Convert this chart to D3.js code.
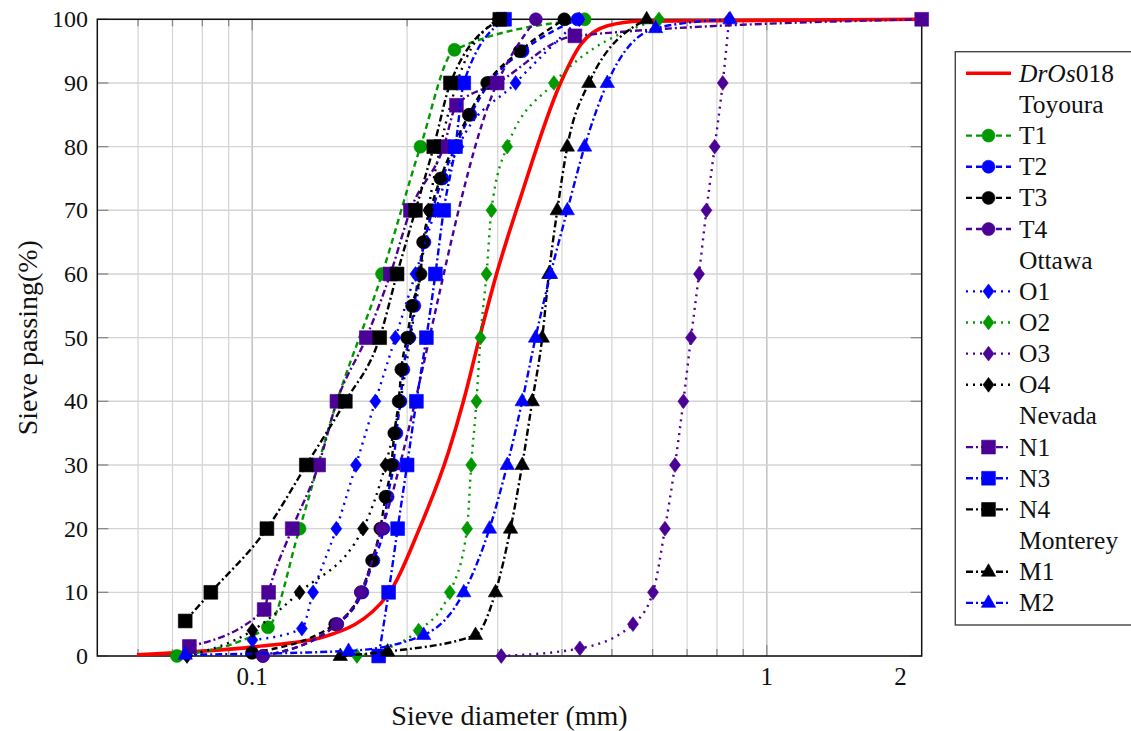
<!DOCTYPE html>
<html>
<head>
<meta charset="utf-8">
<script src="https://cdn.jsdelivr.net/npm/d3@7"></script>
<style>
  body { margin: 0; background: #fff; }
  text { font-family: "Liberation Serif", "DejaVu Serif", serif; fill: #111; }
</style>
</head>
<body>
<svg id="chart" width="1131" height="731"></svg>
<script>
// sieve diameter (mm), passing (%)
const DrOs018 = [[0.0597,0.2],[0.1023,1.5],[0.1374,3],[0.1831,9.5],[0.2113,20],[0.2406,32],[0.2573,40],[0.2765,50],[0.2984,60],[0.3322,72],[0.3974,90],[0.4346,96],[0.4905,99],[0.5688,99.7],[2,100]];

const T1 = [[0.0714,0],[0.1073,4.5],[0.1236,20],[0.1461,40],[0.1788,60],[0.2123,80],[0.2472,95.2],[0.4425,100]];
const T2 = [[0.1049,0],[0.1463,5],[0.1637,10],[0.1720,15],[0.1799,20],[0.1833,25],[0.1881,30],[0.1906,35],[0.1941,40],[0.1967,45],[0.2020,50],[0.2066,55],[0.2104,60],[0.2161,65],[0.2240,70],[0.2343,75],[0.2483,80],[0.2656,85],[0.2891,90],[0.3352,95],[0.4289,100]];
const T3 = [[0.0999,0.5],[0.1450,5],[0.1627,10],[0.1710,15],[0.1774,20],[0.1815,25],[0.1864,30],[0.1889,35],[0.1926,40],[0.1949,45],[0.2000,50],[0.2045,55],[0.2123,60],[0.2149,65],[0.2220,70],[0.2322,75],[0.2461,80],[0.2635,85],[0.2862,90],[0.3311,95],[0.4041,100]];
const T4 = [[0.1049,0],[0.1461,5],[0.1627,10],[0.1788,20],[0.2993,90],[0.3558,100]];

const O1 = [[0.1001,2.5],[0.1249,4.3],[0.1313,10],[0.1457,20],[0.1591,30],[0.1735,40],[0.1898,50],[0.2076,60],[0.2270,70],[0.2516,80],[0.3250,90],[0.4321,100]];
const O2 = [[0.1598,0],[0.2106,4],[0.2421,10],[0.2616,20],[0.2664,30],[0.2728,40],[0.2777,50],[0.2853,60],[0.2917,70],[0.3130,80],[0.3857,90],[0.6173,100]];
const O3 = [[0.3048,0],[0.4333,1.2],[0.5495,5],[0.6010,10],[0.6340,20],[0.6631,30],[0.6885,40],[0.7124,50],[0.7384,60],[0.7633,70],[0.7921,80],[0.8211,90],[0.8447,100]];
const O4 = [[0.0747,0],[0.1001,4],[0.1236,10],[0.1642,20],[0.1815,30],[0.1941,40],[0.2030,50],[0.2123,60],[0.2200,70],[0.2322,80],[0.2500,90],[0.2993,100]];

const N1 = [[0.0755,1.5],[0.1055,7.3],[0.1076,10],[0.1196,20],[0.1346,30],[0.1461,40],[0.1666,50],[0.1856,60],[0.2030,70],[0.2356,80],[0.2494,86.5],[0.2993,90],[0.4237,97.4],[2.0,100]];
const N3 = [[0.1761,0],[0.1841,10],[0.1917,20],[0.2000,30],[0.2085,40],[0.2180,50],[0.2270,60],[0.2356,70],[0.2483,80],[0.2577,90],[0.3093,100]];
const N4 = [[0.0741,5.5],[0.0831,10],[0.1068,20],[0.1274,30],[0.1517,40],[0.1769,50],[0.1912,60],[0.2076,70],[0.2253,80],[0.2428,90],[0.3028,100]];

const M1 = [[0.1483,0],[0.1833,0.7],[0.2716,3.3],[0.2970,10],[0.3177,20],[0.3347,30],[0.3501,40],[0.3661,50],[0.3771,60],[0.3916,70],[0.4096,80],[0.4512,90],[0.5842,100]];
const M2 = [[0.0741,0.2],[0.1539,0.8],[0.2154,3.3],[0.2577,10],[0.2891,20],[0.3130,30],[0.3347,40],[0.3553,50],[0.3800,60],[0.4096,70],[0.4425,80],[0.4898,90],[0.6081,98.6],[0.8484,100]];

const xMinorTicks = [0.06,0.07,0.08,0.09,0.2,0.3,0.4,0.5,0.6,0.7,0.8,0.9];
const xMajorTicks = [0.1, 1];
const xTickLabels = [[0.1,'0.1'],[1,'1'],[1.82,'2']];
const yTicks = [0,10,20,30,40,50,60,70,80,90,100];

const green = '#009900', blue = '#0000ff', black = '#000000', purple = '#4b0096', red = '#ff0000';
const DASHED = '6,4', DOTTED = '2,5', DASHDOT = '7,3,2,3';

// legend order, group headings have no data
const rows = [
  {name: 'DrOs018', data: DrOs018, color: red, dash: null, mark: null, width: 3.6},
  {name: 'Toyoura'},
  {name: 'T1', data: T1, color: green, dash: DASHED, mark: 'circle'},
  {name: 'T2', data: T2, color: blue, dash: DASHED, mark: 'circle'},
  {name: 'T3', data: T3, color: black, dash: DASHED, mark: 'circle'},
  {name: 'T4', data: T4, color: purple, dash: DASHED, mark: 'circle'},
  {name: 'Ottawa'},
  {name: 'O1', data: O1, color: blue, dash: DOTTED, mark: 'diamond'},
  {name: 'O2', data: O2, color: green, dash: DOTTED, mark: 'diamond'},
  {name: 'O3', data: O3, color: purple, dash: DOTTED, mark: 'diamond'},
  {name: 'O4', data: O4, color: black, dash: DOTTED, mark: 'diamond'},
  {name: 'Nevada'},
  {name: 'N1', data: N1, color: purple, dash: DASHDOT, mark: 'square'},
  {name: 'N3', data: N3, color: blue, dash: DASHDOT, mark: 'square'},
  {name: 'N4', data: N4, color: black, dash: DASHDOT, mark: 'square'},
  {name: 'Monterey'},
  {name: 'M1', data: M1, color: black, dash: DASHDOT, mark: 'triangle'},
  {name: 'M2', data: M2, color: blue, dash: DASHDOT, mark: 'triangle'}
];

const svg = d3.select('#chart');
const box = {left: 97.3, right: 921.7, top: 19.3, bottom: 656};
const x = d3.scaleLog().domain([0.05, 2]).range([box.left, box.right]);
const y = d3.scaleLinear().domain([0, 100]).range([box.bottom, box.top]);

const markPath = (m) => {
    if (m === 'circle') return 'M6.5,0A6.5,6.5 0 1,1 -6.5,0A6.5,6.5 0 1,1 6.5,0Z';
    if (m === 'square') return 'M-6.9,-6.9H6.9V6.9H-6.9Z';
    if (m === 'diamond') return 'M0,-7.4L5.5,0L0,7.4L-5.5,0Z';
    if (m === 'triangle') return 'M0,-8L7.2,4.5L-7.2,4.5Z';
    return '';
};

// grid
const grid = svg.append('g');
grid.selectAll('line.xminor').data(xMinorTicks).enter().append('line')
    .attr('x1', d => x(d)).attr('x2', d => x(d)).attr('y1', box.top).attr('y2', box.bottom)
    .attr('stroke', '#d4d4d4').attr('stroke-width', 1.2);
grid.selectAll('line.xmajor').data(xMajorTicks).enter().append('line')
    .attr('x1', d => x(d)).attr('x2', d => x(d)).attr('y1', box.top).attr('y2', box.bottom)
    .attr('stroke', '#c4c4c4').attr('stroke-width', 1.6);
grid.selectAll('line.y').data(yTicks).enter().append('line')
    .attr('x1', box.left).attr('x2', box.right).attr('y1', d => y(d)).attr('y2', d => y(d))
    .attr('stroke', '#d4d4d4').attr('stroke-width', 1.4);

// inner tick marks
const ticks = svg.append('g').attr('stroke', '#8a8a8a').attr('stroke-width', 1.3);
xMinorTicks.forEach(d => {
    ticks.append('line').attr('x1', x(d)).attr('x2', x(d)).attr('y1', box.bottom).attr('y2', box.bottom - 7);
    ticks.append('line').attr('x1', x(d)).attr('x2', x(d)).attr('y1', box.top).attr('y2', box.top + 7);
});
xMajorTicks.forEach(d => {
    ticks.append('line').attr('x1', x(d)).attr('x2', x(d)).attr('y1', box.bottom).attr('y2', box.bottom - 11);
    ticks.append('line').attr('x1', x(d)).attr('x2', x(d)).attr('y1', box.top).attr('y2', box.top + 11);
});
yTicks.forEach(d => {
    ticks.append('line').attr('x1', box.left).attr('x2', box.left + 11).attr('y1', y(d)).attr('y2', y(d));
    ticks.append('line').attr('x1', box.right).attr('x2', box.right - 11).attr('y1', y(d)).attr('y2', y(d));
});

// frame
svg.append('rect').attr('x', box.left).attr('y', box.top)
    .attr('width', box.right - box.left).attr('height', box.bottom - box.top)
    .attr('fill', 'none').attr('stroke', '#111').attr('stroke-width', 1.5);

// tick labels
svg.selectAll('text.xt').data(xTickLabels).enter().append('text')
    .attr('x', d => x(d[0])).attr('y', 685).attr('text-anchor', 'middle')
    .attr('font-size', 25).text(d => d[1]);
svg.selectAll('text.yt').data(yTicks).enter().append('text')
    .attr('x', 88).attr('y', d => y(d) + 8).attr('text-anchor', 'end')
    .attr('font-size', 24).text(d => d);

svg.append('text').attr('x', (box.left + box.right) / 2).attr('y', 725).attr('text-anchor', 'middle')
    .attr('font-size', 28).text('Sieve diameter (mm)');
svg.append('text').attr('transform', `translate(37, ${(box.top + box.bottom) / 2}) rotate(-90)`)
    .attr('text-anchor', 'middle').attr('font-size', 28).text('Sieve passing(%)');

// series
const line = d3.line().x(d => x(d[0])).y(d => y(d[1])).curve(d3.curveMonotoneX);
rows.filter(r => r.data).forEach(r => {
    const g = svg.append('g');
    g.append('path').attr('d', line(r.data)).attr('fill', 'none')
        .attr('stroke', r.color).attr('stroke-width', r.width || 2.4)
        .attr('stroke-dasharray', r.dash);
    if (r.mark) {
        g.selectAll('path.m').data(r.data).enter().append('path')
            .attr('d', markPath(r.mark))
            .attr('transform', d => `translate(${x(d[0])},${y(d[1])})`)
            .attr('fill', r.color).attr('stroke', r.color).attr('stroke-width', 0.6);
    }
});

// legend
const lg = svg.append('g');
lg.append('rect').attr('x', 955.3).attr('y', 51.7).attr('width', 200).attr('height', 573.3)
    .attr('fill', '#fff').attr('stroke', '#444').attr('stroke-width', 1.4);
rows.forEach((r, i) => {
    const ry = 73.3 + i * 31.15;
    if (r.data) {
        lg.append('line').attr('x1', 966).attr('x2', 1011).attr('y1', ry).attr('y2', ry)
            .attr('stroke', r.color).attr('stroke-width', r.width || 2.4)
            .attr('stroke-dasharray', r.dash);
        if (r.mark) {
            lg.append('path').attr('d', markPath(r.mark))
                .attr('transform', `translate(988.5,${ry})`)
                .attr('fill', r.color).attr('stroke', r.color).attr('stroke-width', 0.6);
        }
    }
    const t = lg.append('text').attr('x', 1019).attr('y', ry + 8.5).attr('font-size', 25.5);
    if (r.name === 'DrOs018') {
        t.append('tspan').attr('font-style', 'italic').text('DrOs');
        t.append('tspan').text('018');
    } else {
        t.text(r.name);
    }
});
</script>
</body>
</html>
